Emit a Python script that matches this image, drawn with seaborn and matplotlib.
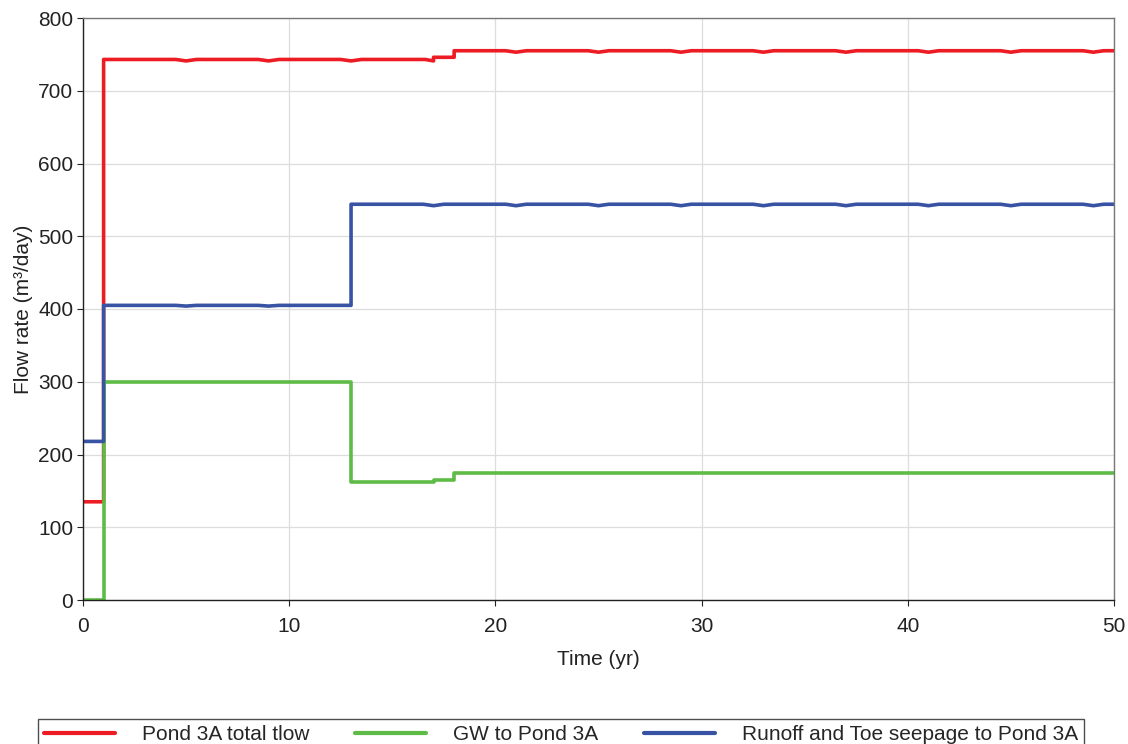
import matplotlib
matplotlib.use("Agg")
import matplotlib.pyplot as plt
import seaborn as sns
import pandas as pd
from matplotlib.ticker import MultipleLocator

# ---- data ----
red_t = [0, 1, 1, 4.5, 5, 5.5, 8.5, 9, 9.5, 12.5, 13, 13.5, 16.6, 17, 17, 17.9, 18, 18,
         20.5, 21, 21.5, 24.5, 25, 25.5, 28.5, 29, 29.5, 32.5, 33, 33.5, 36.5, 37, 37.5,
         40.5, 41, 41.5, 44.5, 45, 45.5, 48.5, 49, 49.5, 50]
red_q = [135, 135, 743, 743, 741, 743, 743, 741, 743, 743, 741, 743, 743, 741, 746, 746, 746, 755,
         755, 753, 755, 755, 753, 755, 755, 753, 755, 755, 753, 755, 755, 753, 755,
         755, 753, 755, 755, 753, 755, 755, 753, 755, 755]

green_t = [0, 1, 1, 13, 13, 17, 17, 18, 18, 50]
green_q = [0, 0, 300, 300, 162, 162, 165, 165, 174, 174]

blue_t = [0, 1, 1, 4.5, 5, 5.5, 8.5, 9, 9.5, 13, 13, 16.5, 17, 17.5, 20.5, 21, 21.5,
          24.5, 25, 25.5, 28.5, 29, 29.5, 32.5, 33, 33.5, 36.5, 37, 37.5, 40.5, 41, 41.5,
          44.5, 45, 45.5, 48.5, 49, 49.5, 50]
blue_q = [218, 218, 405, 405, 404, 405, 405, 404, 405, 405, 544, 544, 542, 544, 544, 542, 544,
          544, 542, 544, 544, 542, 544, 544, 542, 544, 544, 542, 544, 544, 542, 544,
          544, 542, 544, 544, 542, 544, 544]

series_names = ["Pond 3A total tlow", "GW to Pond 3A", "Runoff and Toe seepage to Pond 3A"]
series_colors = ["#ED1C24", "#5DBB46", "#3953A4"]

frames = []
for name, t, q in zip(series_names, [red_t, green_t, blue_t], [red_q, green_q, blue_q]):
    frames.append(pd.DataFrame({"t": t, "q": q, "series": name}))
df = pd.concat(frames, ignore_index=True)

sns.set_style("white")
plt.rcParams["font.family"] = ["Liberation Sans", "DejaVu Sans"]

fig = plt.figure(figsize=(11.28, 7.44), dpi=100)
ax = fig.add_axes([83 / 1128, 1 - 600 / 744, (1114 - 83) / 1128, (600 - 18) / 744])

sns.lineplot(data=df, x="t", y="q", hue="series", hue_order=series_names,
             palette=series_colors, sort=False, estimator=None, units="series",
             linewidth=2.6, ax=ax, legend=False)

ax.set_xlim(0, 50)
ax.set_ylim(0, 800)
ax.xaxis.set_major_locator(MultipleLocator(10))
ax.xaxis.set_minor_locator(MultipleLocator(5))
ax.yaxis.set_major_locator(MultipleLocator(100))
ax.yaxis.set_minor_locator(MultipleLocator(50))
ax.grid(True, which="major", color="#dddddd", linewidth=0.9)
ax.set_axisbelow(True)
ax.tick_params(axis="both", which="both", direction="out", color="#222222", labelsize=15,
               labelcolor="#222222")
ax.tick_params(axis="both", which="major", length=4, width=0.8)
ax.tick_params(axis="x", which="major", pad=8)
ax.tick_params(axis="y", which="major", pad=3)
ax.tick_params(axis="both", which="minor", length=3, width=0.8)
ax.tick_params(axis="x", bottom=True)
ax.tick_params(axis="y", left=True)
for s in ["left", "bottom"]:
    ax.spines[s].set_color("#222222")
    ax.spines[s].set_linewidth(1.0)
for s in ["top", "right"]:
    ax.spines[s].set_color("#777777")
    ax.spines[s].set_linewidth(1.0)

ax.set_xlabel("Time (yr)", fontsize=15, color="#222222", labelpad=10)
ax.set_ylabel("Flow rate (m³/day)", fontsize=15, color="#222222", labelpad=4)

handles = [plt.Line2D([], [], color=c, linewidth=3) for c in series_colors]
leg = fig.legend(handles, series_names, loc="upper center", ncol=3,
                 bbox_to_anchor=(561 / 1128, 1 - 719 / 744), frameon=True, fancybox=False,
                 fontsize=15, handlelength=3.4, handletextpad=1.3, columnspacing=2.2,
                 borderpad=0.3, borderaxespad=0)
leg.get_frame().set_edgecolor("#222222")
leg.get_frame().set_linewidth(1.0)

fig.savefig("out.png", dpi=100)
